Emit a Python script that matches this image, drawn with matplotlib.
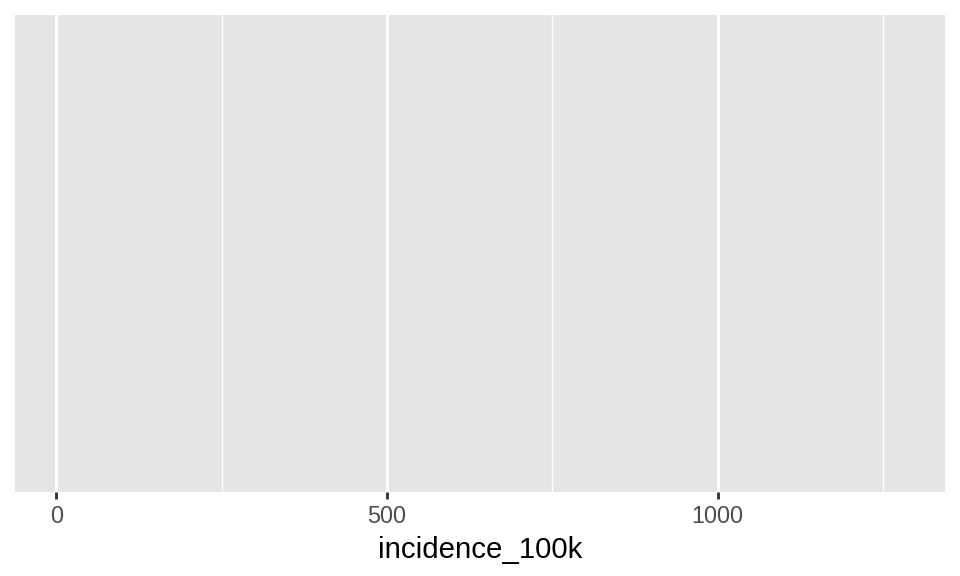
import matplotlib
matplotlib.use("Agg")
import matplotlib.pyplot as plt
from matplotlib.ticker import MultipleLocator

# range of incidence_100k in the data (no geoms are drawn in the original)
incidence_range = [1.2, 1280.0]
x_breaks = [0, 500, 1000]
x_labels = ["0", "500", "1000"]
x_title = "incidence_100k"

plt.rcParams["font.family"] = ["Liberation Sans", "DejaVu Sans"]

# 5x3 in at 192 dpi -> 960x576, so ggplot point sizes carry over directly
fig = plt.figure(figsize=(5, 3), dpi=192)
W, H = 960, 576
ax = fig.add_axes([15 / W, 84 / H, 930 / W, 477 / H])
ax.set_facecolor("#E5E5E5")

# ggplot default continuous expansion: 5% on each side
lo, hi = incidence_range
pad = 0.05 * (hi - lo)
ax.set_xlim(lo - pad, hi + pad)
ax.set_ylim(0, 1)

ax.set_xticks(x_breaks)
ax.set_xticklabels(x_labels)
ax.xaxis.set_minor_locator(MultipleLocator(250))
ax.set_yticks([])

ax.grid(True, which="major", axis="x", color="white", linewidth=1.07)
ax.grid(True, which="minor", axis="x", color="white", linewidth=0.53)
ax.set_axisbelow(True)

ax.tick_params(axis="x", which="major", length=2.75, width=1.07,
               color="#333333", labelcolor="#4D4D4D", labelsize=8.8, pad=2.2)
ax.tick_params(axis="x", which="minor", length=0)

for s in ax.spines.values():
    s.set_visible(False)

ax.set_xlabel(x_title, fontsize=11, color="black", labelpad=2.75)

fig.savefig("out.png", dpi=192, facecolor="white")
